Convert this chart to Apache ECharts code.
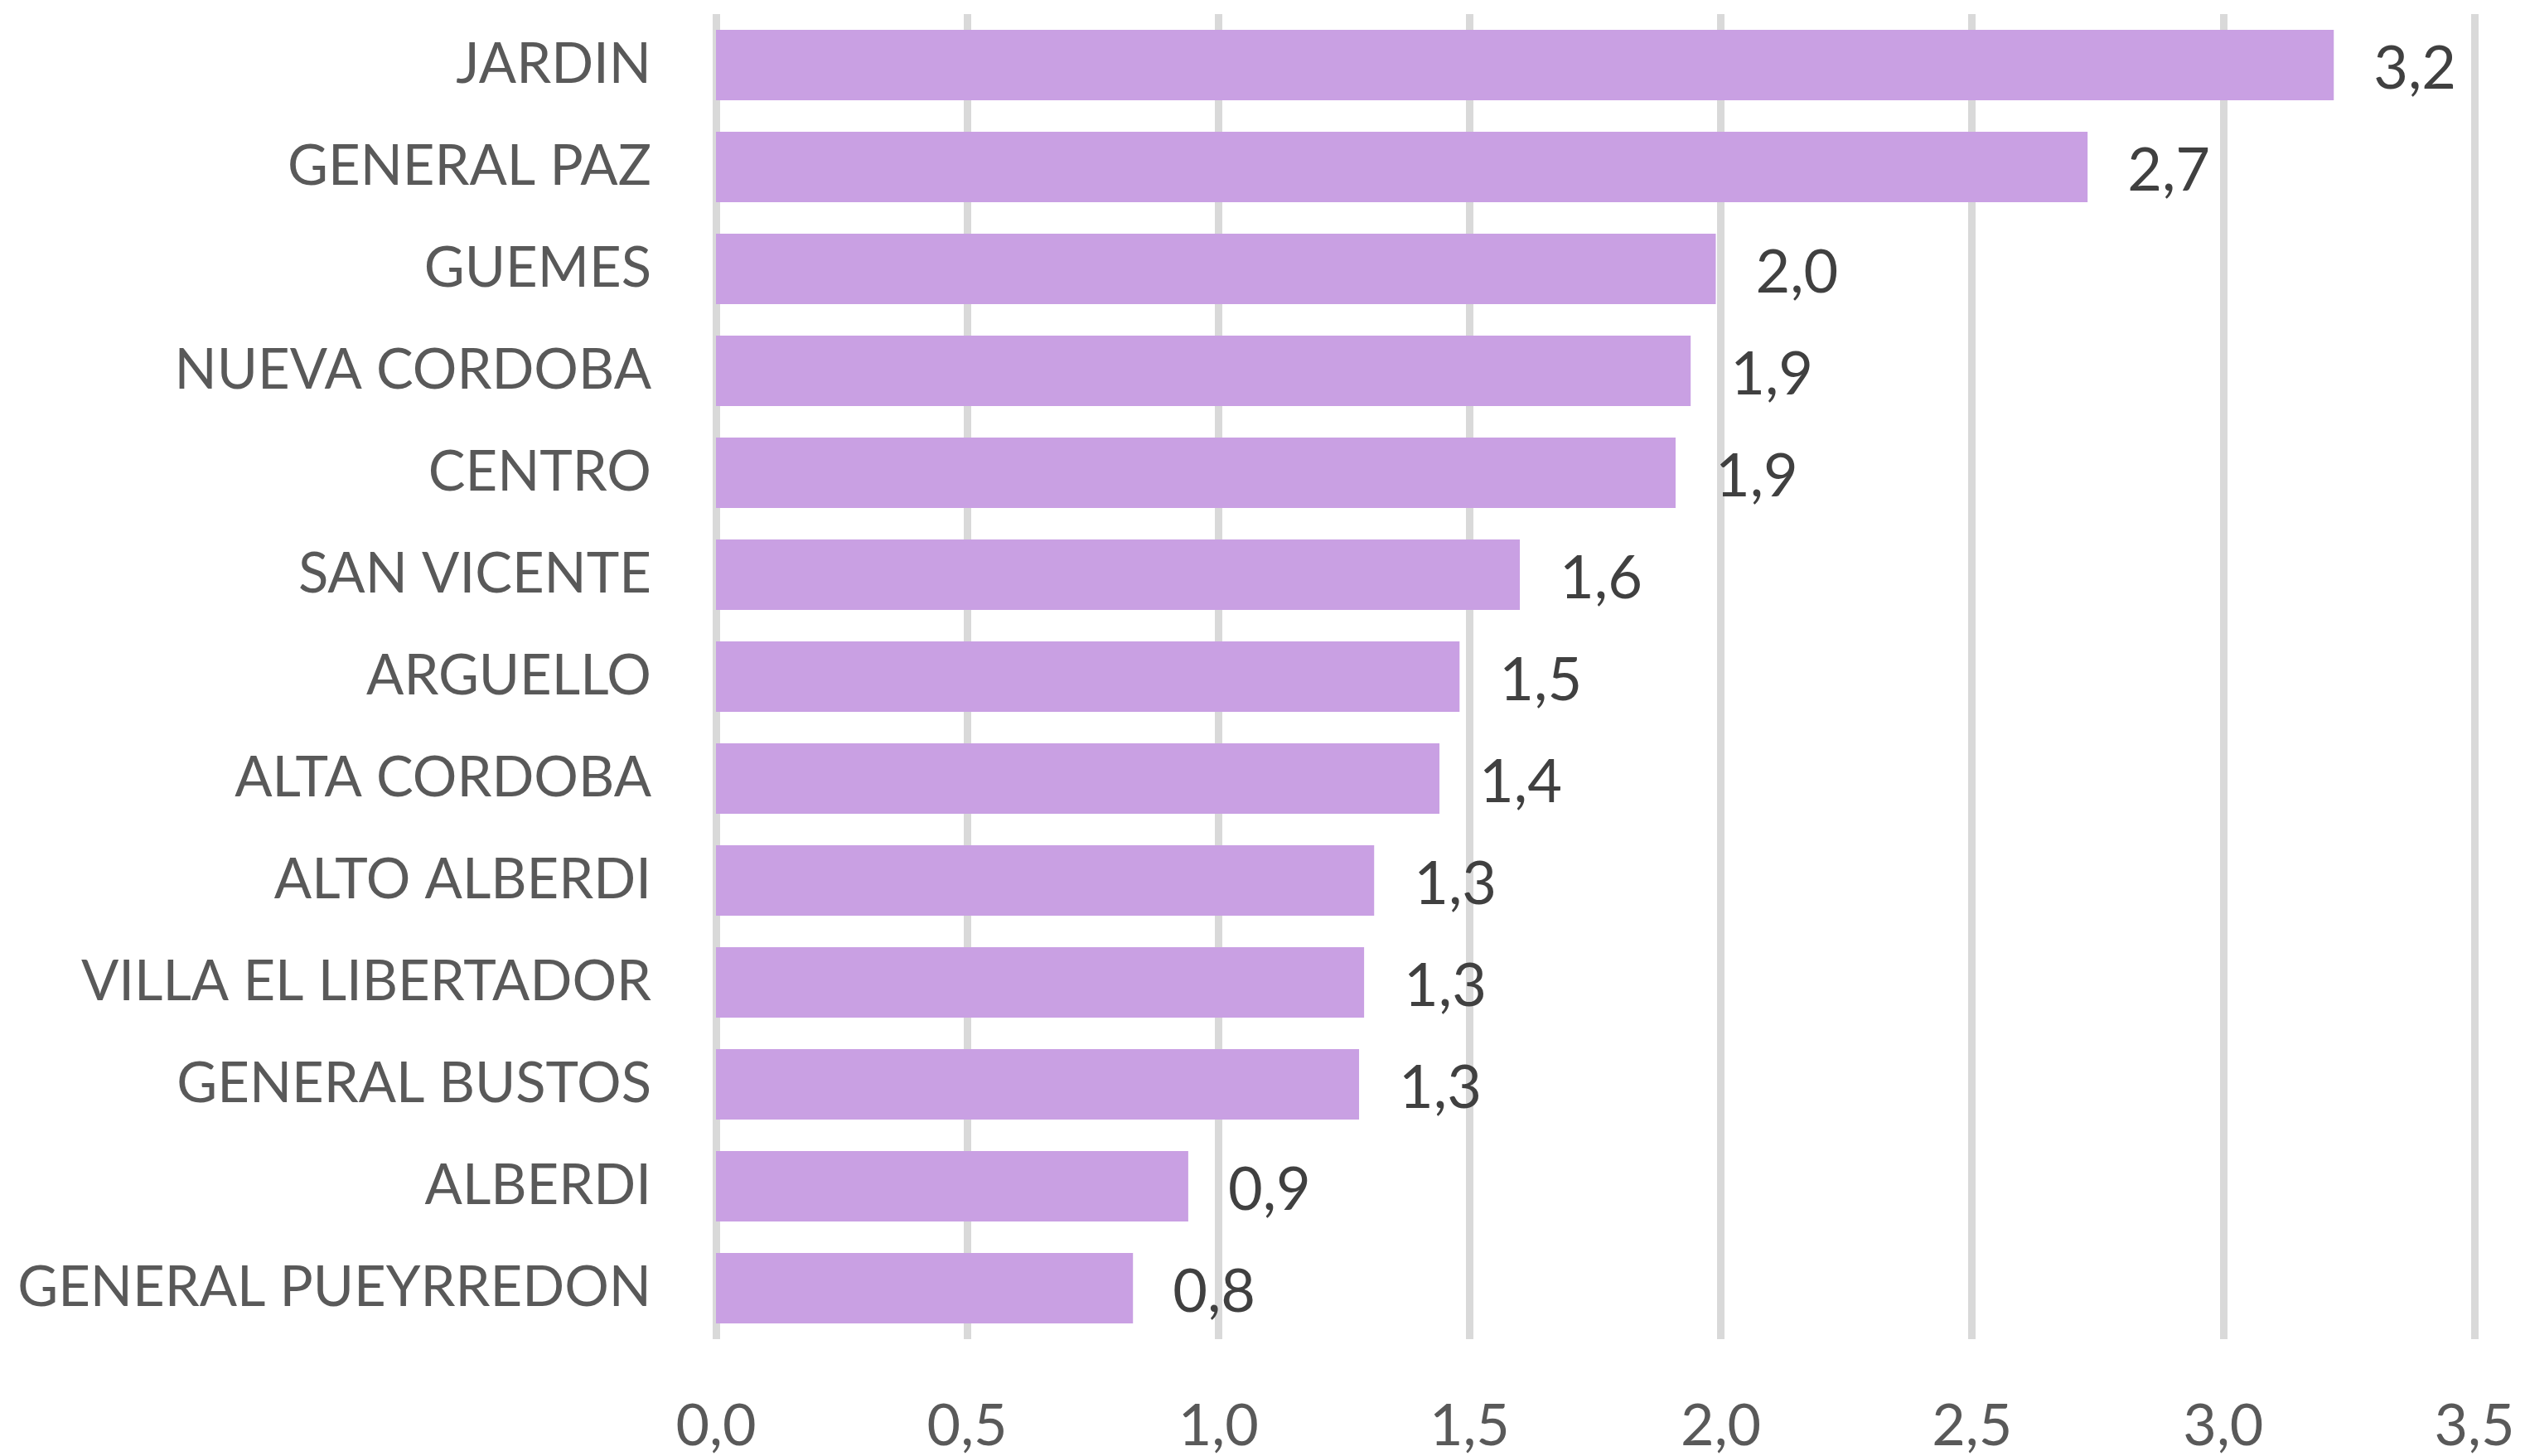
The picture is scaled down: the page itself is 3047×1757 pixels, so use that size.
<!DOCTYPE html>
<html>
<head>
<meta charset="utf-8">
<script src="https://cdn.jsdelivr.net/npm/echarts@6/dist/echarts.min.js"></script>
<style>
  html, body { margin: 0; padding: 0; background: #fff; }
  #chart { width: 3047px; height: 1757px; }
</style>
</head>
<body>
<div id="chart"></div>
<script>
// barrios, de arriba hacia abajo
var barrios = ['JARDIN', 'GENERAL PAZ', 'GUEMES', 'NUEVA CORDOBA', 'CENTRO', 'SAN VICENTE',
  'ARGUELLO', 'ALTA CORDOBA', 'ALTO ALBERDI', 'VILLA EL LIBERTADOR', 'GENERAL BUSTOS',
  'ALBERDI', 'GENERAL PUEYRREDON'];
var valores = [3.22, 2.73, 1.99, 1.94, 1.91, 1.60, 1.48, 1.44, 1.31, 1.29, 1.28, 0.94, 0.83];
var ticksX = [0, 0.5, 1, 1.5, 2, 2.5, 3, 3.5];

var font = 'Lato';
var mychart = echarts.init(document.getElementById('chart'));

var option = {
  animation: false,
  grid: { left: 864, right: 61, top: 17, bottom: 141, containLabel: false, outerBoundsMode: 'none' },
  xAxis: {
    type: 'value',
    min: ticksX[0],
    max: ticksX[ticksX.length - 1],
    interval: 0.5,
    axisLine: { show: false },
    axisTick: { show: false },
    splitLine: { lineStyle: { color: '#d9d9d9', width: 9 } },
    axisLabel: {
      margin: 70,
      color: '#595959',
      fontFamily: font,
      fontSize: 70,
      formatter: function (v) { return v.toFixed(1).replace('.', ','); }
    }
  },
  yAxis: {
    type: 'category',
    inverse: true,
    data: barrios,
    axisLine: { show: false },
    axisTick: { show: false },
    axisLabel: {
      margin: 78,
      color: '#595959',
      fontFamily: font,
      fontSize: 67
    }
  },
  series: [{
    type: 'bar',
    data: valores,
    barCategoryGap: '31%',
    itemStyle: { color: '#c9a0e3' },
    label: {
      show: true,
      position: 'right',
      distance: 48,
      offset: [0, 5],
      color: '#404040',
      fontFamily: font,
      fontSize: 72,
      formatter: function (p) { return p.value.toFixed(1).replace('.', ','); }
    }
  }]
};

mychart.setOption(option);
</script>
</body>
</html>
